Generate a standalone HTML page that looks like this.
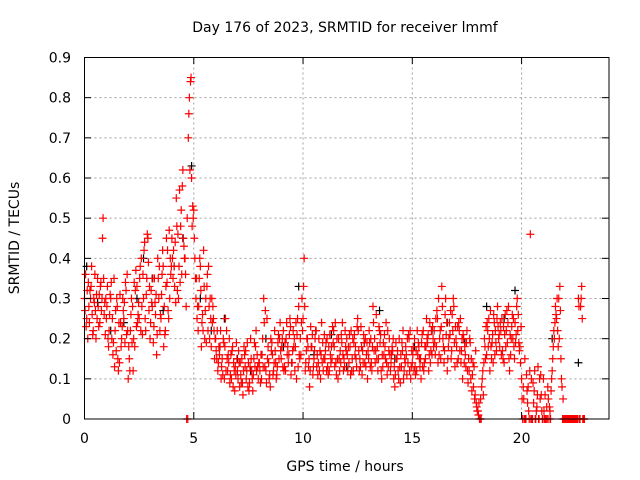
<!DOCTYPE html>
<html><head><meta charset="utf-8"><style>
body{margin:0;background:#fff}
svg{display:block;font-family:"DejaVu Sans","Liberation Sans",sans-serif}
</style></head><body>
<svg id="chart" width="640" height="480" xmlns="http://www.w3.org/2000/svg">
<rect width="640" height="480" fill="#fff"/>
<text x="345" y="32" font-size="14" text-anchor="middle">Day 176 of 2023, SRMTID for receiver lmmf</text>
<text x="345" y="471" font-size="14" text-anchor="middle">GPS time / hours</text>
<text x="19" y="238" font-size="14" text-anchor="middle" transform="rotate(-90 19 238)">SRMTID / TECUs</text>
<g id="grid"></g>
<g id="marks"></g>
<rect x="84.5" y="57.5" width="524.5" height="361.5" fill="none" stroke="#000" stroke-width="1"/>
<g id="axes"></g>
</svg>
<script>
const xTicks=[0,5,10,15,20];
const yTicks=[0,0.1,0.2,0.3,0.4,0.5,0.6,0.7,0.8,0.9];
const yTickLabels=["0","0.1","0.2","0.3","0.4","0.5","0.6","0.7","0.8","0.9"];
const redA=[.30,.25,.28,.33,.22,.27,.35,.24,.30,.26,
.25,.18,.30,.16,.22,.28,.14,.20,.25,.32,
.10,.22,.28,.18,.33,.25,.40,.30,.22,.45,
.20,.28,.35,.16,.30,.25,.38,.22,.42,.30,
.45,.38,.55,.30,.48,.62,.40,.50,.80,.60,
.52,.30,.22,.38,.26,.20,.33,.28,.18,.25,
.20,.12,.18,.15,.10,.22,.14,.16,.08,.13,
.12,.08,.15,.18,.10,.14,.20,.07,.13,.16,
.14,.10,.30,.12,.18,.08,.16,.22,.11,.15,
.15,.22,.12,.18,.25,.14,.20,.10,.28,.16,
.25,.12,.20,.08,.18,.15,.22,.14,.10,.19,
.15,.20,.12,.18,.22,.14,.10,.17,.24,.13,
.20,.14,.22,.12,.18,.25,.15,.11,.19,.16,
.15,.20,.28,.14,.18,.22,.10,.16,.24,.13,
.12,.17,.08,.15,.20,.13,.10,.18,.14,.22,
.14,.20,.12,.18,.10,.22,.15,.19,.24,.16,
.22,.18,.30,.15,.20,.26,.12,.24,.17,.28,
.20,.15,.25,.10,.18,.22,.12,.15,.08,.17,
.02,.00,.10,.20,.16,.25,.18,.14,.22,.28,
.18,.25,.14,.22,.28,.16,.20,.24,.30,.17,
.10,.05,.00,.08,.46,.00,.12,.03,.00,.06,
.10,.00,.08,.02,.12,.20,.25,.30,.15,.05,
.00,.00,.00,.00,.00,.00,.30,.28,.00];
const redB=[.36,.20,.32,.26,.29,.31,.23,.34,.50,.21,
.33,.26,.20,.35,.17,.12,.24,.30,.19,.36,
.15,.30,.20,.37,.26,.38,.21,.44,.35,.27,
.32,.19,.26,.40,.22,.36,.28,.45,.25,.36,
.35,.44,.32,.57,.36,.43,.28,.70,.84,.53,
.40,.25,.35,.18,.42,.30,.22,.30,.24,.15,
.15,.18,.10,.20,.25,.12,.09,.17,.12,.19,
.17,.11,.06,.13,.19,.09,.12,.15,.22,.10,
.09,.20,.13,.25,.10,.17,.12,.14,.19,.24,
.20,.13,.24,.16,.11,.22,.18,.25,.15,.30,
.40,.17,.13,.23,.11,.20,.16,.12,.24,.15,
.19,.11,.16,.23,.13,.20,.15,.21,.12,.18,
.12,.18,.15,.21,.13,.17,.23,.14,.20,.10,
.19,.12,.17,.26,.15,.21,.13,.18,.11,.20,
.16,.10,.19,.12,.09,.17,.15,.11,.20,.13,
.18,.11,.16,.13,.21,.14,.25,.12,.17,.20,
.16,.25,.20,.33,.14,.21,.18,.27,.22,.13,
.14,.22,.17,.20,.13,.09,.19,.11,.05,.03,
.04,.00,.06,.15,.22,.12,.19,.24,.17,.20,
.22,.15,.26,.19,.12,.23,.18,.21,.26,.14,
.00,.15,.07,.00,.10,.04,.00,.13,.05,.00,
.00,.03,.00,.07,.18,.28,.22,.33,.08,.00,
.00,.00,.00,.00,.00,.00,.00,.33,.00];
const redC=[.27,.32,.24,.38,.30,.20,.28,.33,.45,.29,
.28,.22,.34,.19,.27,.15,.31,.23,.29,.21,
.18,.26,.12,.32,.24,.35,.28,.42,.31,.39,
.24,.35,.29,.21,.38,.31,.18,.33,.27,.40,
.40,.33,.48,.38,.52,.45,.36,.00,.62,.48,
.45,.35,.28,.32,.22,.27,.36,.20,.30,.22,
.17,.14,.22,.11,.18,.15,.20,.10,.14,.11,
.10,.14,.09,.16,.12,.07,.15,.11,.18,.13,
.12,.16,.24,.09,.14,.20,.11,.17,.13,.20,
.18,.12,.20,.14,.23,.17,.12,.21,.16,.24,
.33,.14,.18,.12,.21,.17,.13,.20,.16,.12,
.17,.13,.21,.15,.18,.11,.20,.14,.16,.22,
.16,.21,.12,.19,.15,.22,.13,.17,.14,.19,
.22,.14,.24,.17,.12,.19,.16,.21,.14,.17,
.14,.20,.11,.17,.13,.19,.12,.16,.21,.10,
.16,.13,.22,.15,.19,.12,.18,.21,.14,.23,
.19,.27,.16,.23,.18,.30,.15,.21,.26,.19,
.18,.24,.14,.21,.16,.12,.20,.07,.13,.04,
.01,.05,.12,.18,.24,.20,.15,.26,.19,.23,
.24,.17,.21,.27,.15,.20,.25,.19,.22,.18,
.05,.00,.11,.02,.00,.09,.00,.06,.10,.02,
.02,.00,.05,.00,.15,.24,.30,.20,.10,.00,
.00,.00,.00,.00,.00,.00,.28,.30,.00];
const redD=[.23,.34,.30,.21,.36,.25,.31,.27,.35,.30,
.20,.31,.25,.13,.30,.24,.18,.27,.34,.22,
.12,.19,.34,.23,.29,.22,.36,.25,.46,.33,
.29,.23,.31,.35,.26,.42,.21,.34,.47,.38,
.42,.29,.46,.34,.58,.40,.00,.76,.85,.50,
.35,.28,.40,.24,.33,.19,.38,.25,.28,.20,
.22,.16,.13,.19,.12,.16,.11,.18,.07,.15,
.14,.09,.12,.17,.08,.13,.10,.19,.12,.14,
.16,.13,.27,.15,.11,.19,.14,.10,.21,.17,
.13,.19,.16,.21,.14,.18,.24,.13,.20,.22,
.28,.20,.15,.18,.13,.22,.11,.17,.14,.21,
.12,.18,.14,.19,.24,.15,.12,.19,.15,.17,
.18,.11,.20,.16,.23,.12,.18,.21,.13,.17,
.13,.18,.20,.15,.23,.12,.19,.15,.22,.16,
.18,.13,.15,.10,.16,.22,.14,.20,.12,.17,
.12,.17,.19,.15,.13,.18,.20,.16,.22,.18,
.25,.14,.22,.28,.17,.24,.20,.15,.30,.23,
.23,.17,.20,.14,.19,.15,.10,.14,.06,.02,
.00,.08,.14,.23,.18,.27,.21,.16,.25,.21,
.16,.23,.18,.24,.21,.26,.15,.28,.19,.23,
.08,.00,.04,.12,.00,.07,.02,.00,.11,.00,
.06,.00,.03,.10,.22,.26,.18,.27,.00,.00,
.00,.00,.00,.00,.00,.00,.00,.25,.00];
const blackT=[0.1,0.6,1.2,1.8,2.4,2.7,3.1,3.6,4.1,4.5,4.9,5.3,5.8,6.4,7.0,7.6,8.3,9.1,9.8,10.5,11.3,12.0,12.8,13.5,14.2,15.1,15.9,16.6,17.4,18.4,19.2,19.7,21.4,22.6];
const blackV=[.38,.29,.22,.24,.30,.40,.35,.27,.38,.45,.63,.30,.22,.25,.15,.12,.20,.18,.33,.16,.21,.13,.19,.27,.15,.18,.22,.24,.19,.28,.25,.32,.20,.14];
const x=t=>84.5+t*(524.5/24);
const y=v=>419-v*(361.5/0.9);
const NS="http://www.w3.org/2000/svg";
const grid=document.getElementById('grid'),axes=document.getElementById('axes'),marks=document.getElementById('marks');
function mk(tag,attrs,parent){const e=document.createElementNS(NS,tag);for(const k in attrs)e.setAttribute(k,attrs[k]);parent.appendChild(e);return e;}
xTicks.forEach(t=>{
 if(t>0){const g=mk('line',{x1:x(t),x2:x(t),y1:57.5,y2:419,stroke:'#a0a0a0','stroke-dasharray':'2,3'},grid);
 
 }
 mk('line',{x1:x(t),x2:x(t),y1:419,y2:412,stroke:'#000'},axes);
 mk('line',{x1:x(t),x2:x(t),y1:57.5,y2:64,stroke:'#000'},axes);
 const l=mk('text',{x:x(t),y:443,'font-size':14,'text-anchor':'middle'},axes);
 l.textContent=t;
 
 
});
yTicks.forEach((v,i)=>{
 if(v>0&&v<0.9){const g=mk('line',{x1:84.5,x2:609,y1:y(v),y2:y(v),stroke:'#a0a0a0','stroke-dasharray':'2,3'},grid);
 
 }
 mk('line',{x1:84.5,x2:91,y1:y(v),y2:y(v),stroke:'#000'},axes);
 mk('line',{x1:602,x2:609,y1:y(v),y2:y(v),stroke:'#000'},axes);
 const l=mk('text',{x:71,y:y(v)+5,'font-size':14,'text-anchor':'end'},axes);
 l.textContent=yTickLabels[i];
 
 
});
function plus(t,v,col){
 const cx=x(t),cy=y(v);
 const p=mk('path',{d:`M${cx-4},${cy}H${cx+4}M${cx},${cy-4}V${cy+4}`,stroke:col,'stroke-width':1.2,fill:'none'},marks);
 
 
}
blackT.forEach((t,i)=>plus(t,blackV[i],'#000'));
redA.forEach((v,i)=>plus(i*0.1,v,'#f00'));
redC.forEach((v,i)=>plus(i*0.1+0.025,v,'#f00'));
redB.forEach((v,i)=>plus(i*0.1+0.05,v,'#f00'));
redD.forEach((v,i)=>plus(i*0.1+0.075,v,'#f00'));
</script>
</body></html>
